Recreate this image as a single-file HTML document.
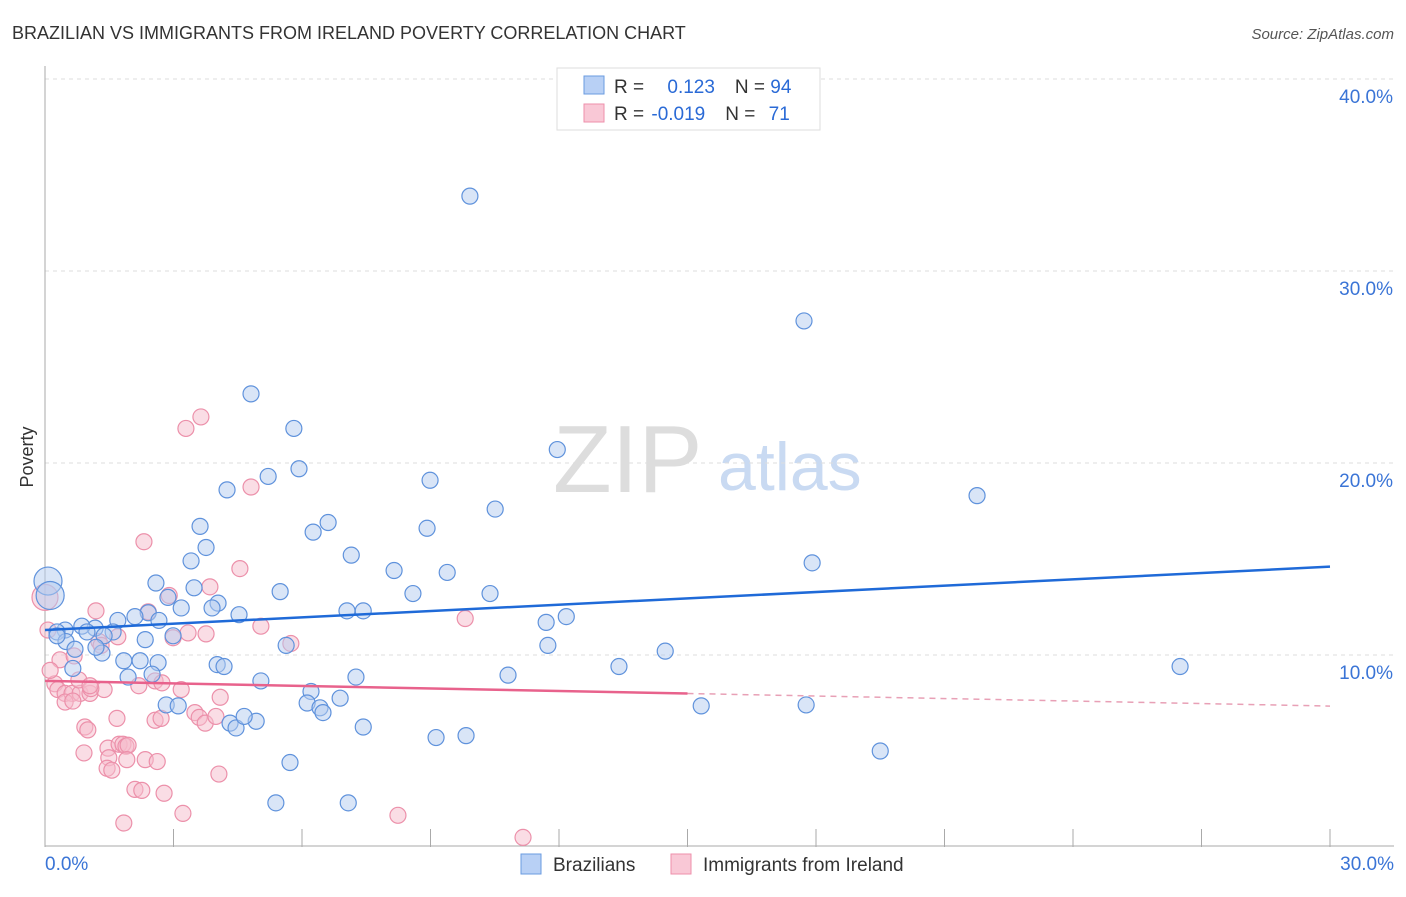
<!DOCTYPE html>
<html><head><meta charset="utf-8"><style>
body{margin:0;background:#fff;font-family:"Liberation Sans",sans-serif;}
svg text{font-family:"Liberation Sans",sans-serif;}
</style></head><body>
<svg id="chart" width="1406" height="892" viewBox="0 0 1406 892">
<text x="12" y="39" font-size="18" fill="#333">BRAZILIAN VS IMMIGRANTS FROM IRELAND POVERTY CORRELATION CHART</text>
<text x="1394" y="39" font-size="15" fill="#555" font-style="italic" text-anchor="end">Source: ZipAtlas.com</text>
<text x="33" y="457" font-size="18" fill="#333" transform="rotate(-90 33 457)" text-anchor="middle">Poverty</text>
<g><text x="553" y="492" font-size="96" fill="#ddd" font-family="Liberation Serif">ZIP</text><text x="718" y="490" font-size="68" fill="#c9daf2">atlas</text></g>
<g id="grid"></g><g id="axes"></g><g id="pink"></g><g id="blue"></g><g id="lines"></g>
<g>
<rect x="557" y="68" width="263" height="62" fill="#fff" stroke="#ddd"/>
<rect x="584" y="76" width="20" height="18" fill="#b8d0f5" stroke="#6a9be0"/>
<rect x="584" y="104" width="20" height="18" fill="#f9c8d6" stroke="#ee8fab"/>
<text x="614" y="93" font-size="19" fill="#333">R = <tspan fill="#2a6ad6" dx="18">0.123</tspan><tspan dx="20" fill="#333">N = </tspan><tspan fill="#2a6ad6">94</tspan></text>
<text x="614" y="120" font-size="19" fill="#333">R = <tspan fill="#2a6ad6" dx="2">-0.019</tspan><tspan dx="20" fill="#333">N = </tspan><tspan fill="#2a6ad6" dx="8">71</tspan></text>
</g>
<g>
<rect x="521" y="854" width="20" height="20" fill="#b8d0f5" stroke="#6a9be0"/>
<text x="553" y="871" font-size="19" fill="#333">Brazilians</text>
<rect x="671" y="854" width="20" height="20" fill="#f9c8d6" stroke="#ee8fab"/>
<text x="703" y="871" font-size="19" fill="#333">Immigrants from Ireland</text>
</g>
</svg>
<script>
const yTicks=[10,20,30,40];
const yTickLabels=["10.0%","20.0%","30.0%","40.0%"];
const xTickLabels=["0.0%","30.0%"];
const blueX=[9.92,17.72,4.81,11.96,5.81,5.93,5.21,4.25,8.99,21.76,10.51,3.62,6.61,6.26,8.92,3.76,7.15,3.41,17.91,8.15,9.39,2.59,5.49,3.48,8.59,10.39,2.87,4.04,3.90,3.18,2.41,4.53,7.05,7.43,2.10,1.70,2.66,12.17,11.70,1.17,0.86,0.47,0.28,1.59,2.99,2.34,1.38,0.49,11.74,5.63,0.70,1.33,1.19,14.48,1.84,2.22,2.64,4.02,4.18,26.5,13.40,0.65,2.50,1.94,10.81,7.26,5.04,6.21,6.89,6.12,2.83,3.11,6.42,6.49,15.32,17.77,4.32,4.46,4.93,4.65,7.43,9.13,9.83,19.5,5.72,5.39,7.08,0.28,0.98];
const blueY=[33.9,27.4,23.6,20.7,21.8,19.7,19.3,18.6,19.1,18.3,17.6,16.7,16.9,16.4,16.6,15.6,15.2,14.9,14.8,14.4,14.3,13.75,13.3,13.5,13.2,13.2,13.0,12.7,12.45,12.45,12.2,12.1,12.3,12.3,12.0,11.8,11.8,12.0,11.7,11.4,11.5,11.3,11.2,11.2,11.0,10.8,11.0,10.7,10.5,10.5,10.3,10.1,10.4,10.2,9.7,9.7,9.6,9.5,9.4,9.4,9.4,9.3,9.0,8.85,8.95,8.85,8.65,8.1,7.75,7.5,7.4,7.35,7.25,7.0,7.35,7.4,6.45,6.2,6.55,6.8,6.25,5.7,5.8,5.0,4.4,2.3,2.3,11.0,11.2];
const blueBigX=[0.07,0.12];
const blueBigY=[13.85,13.1];
const pinkX=[3.64,3.29,4.81,2.31,4.55,3.85,2.90,2.41,1.19,5.04,3.76,3.34,2.99,1.70,1.26,1.31,5.74,9.81,0.35,0.68,0.23,0.30,0.47,0.63,0.82,1.05,1.38,0.79,2.19,3.18,2.57,2.73,0.47,0.65,1.07,1.68,0.93,1.00,2.57,2.71,3.50,3.60,3.74,1.47,1.73,1.82,1.89,1.94,0.91,1.49,1.91,2.34,2.62,1.45,1.56,4.06,2.10,2.26,2.78,1.84,3.22,8.24,11.16,4.09,3.99,1.05,0.12,0.07];
const pinkY=[22.4,21.8,18.75,15.9,14.5,13.55,13.1,12.25,12.3,11.5,11.1,11.15,10.9,10.95,10.7,10.5,10.6,11.9,9.75,9.95,8.5,8.2,8.0,8.0,8.0,8.0,8.2,8.7,8.4,8.2,8.65,8.55,7.55,7.6,8.25,6.7,6.25,6.1,6.6,6.7,7.0,6.75,6.45,5.15,5.35,5.35,5.25,5.3,4.9,4.65,4.55,4.55,4.45,4.1,4.0,3.8,3.0,2.95,2.8,1.25,1.75,1.65,0.5,7.8,6.8,8.4,9.2,11.3];
const pinkBigX=[0.0];
const pinkBigY=[13.0];
const blueTrend=[11.3,14.6];
const pinkTrend=[8.65,7.34];
const pinkSolidEnd=15;

const NS="http://www.w3.org/2000/svg";
const X0=45,X1=1330,XMAX=30,Y0=847,PXPER=19.2;
const xs=v=>X0+(v/XMAX)*(X1-X0);
const ys=v=>Y0-v*PXPER;
function mk(tag,attrs,parent){const e=document.createElementNS(NS,tag);for(const k in attrs)e.setAttribute(k,attrs[k]);parent.appendChild(e);return e;}
const grid=document.getElementById('grid'),axes=document.getElementById('axes');
yTicks.forEach((t,i)=>{
 const l=mk('line',{x1:X0,x2:1394,y1:ys(t),y2:ys(t),stroke:'#ddd','stroke-dasharray':'4,4'},grid);
 
 
 const tx=mk('text',{x:1393,y:ys(t)+24,'font-size':19,fill:'#3a74d6','text-anchor':'end'},axes);
 tx.textContent=yTickLabels[i];
 
 
});
let ax=mk('line',{x1:X0,x2:X0,y1:66,y2:Y0,stroke:'#aaa'},axes);


ax=mk('line',{x1:X0,x2:1394,y1:Y0-1,y2:Y0-1,stroke:'#aaa'},axes);


for(let i=0;i<=10;i++){const v=i*3;const tk=mk('line',{x1:xs(v),x2:xs(v),y1:Y0-18,y2:Y0,stroke:'#aaa'},axes);
 
 }
let xt=mk('text',{x:45,y:870,'font-size':19,fill:'#3a74d6'},axes);xt.textContent=xTickLabels[0];


xt=mk('text',{x:1394,y:870,'font-size':19,fill:'#3a74d6','text-anchor':'end'},axes);xt.textContent=xTickLabels[1];


function dots(X,Y,g,r,fill,stroke,name){X.forEach((x,i)=>{const c=mk('circle',{cx:xs(x),cy:ys(Y[i]),r:r,fill:fill,'fill-opacity':0.5,stroke:stroke,'stroke-width':1.2},g);
 
 });}
const pg=document.getElementById('pink'),bg=document.getElementById('blue');
dots(pinkBigX,pinkBigY,pg,13,'#f6bccc','#ec90aa','ireland-point');
dots(pinkX,pinkY,pg,8,'#f6bccc','#ec90aa','ireland-point');
dots(blueBigX,blueBigY,bg,14,'#b4ccf0','#5f92dc','brazilian-point');
dots(blueX,blueY,bg,8,'#b4ccf0','#5f92dc','brazilian-point');
const lg=document.getElementById('lines');
let ln=mk('line',{x1:xs(0),y1:ys(blueTrend[0]),x2:xs(XMAX),y2:ys(blueTrend[1]),stroke:'#1f6ad8','stroke-width':2.5},lg);


const pm=pinkTrend[0]+(pinkTrend[1]-pinkTrend[0])*pinkSolidEnd/XMAX;
ln=mk('line',{x1:xs(0),y1:ys(pinkTrend[0]),x2:xs(pinkSolidEnd),y2:ys(pm),stroke:'#e8628c','stroke-width':2.5},lg);


ln=mk('line',{x1:xs(pinkSolidEnd),y1:ys(pm),x2:xs(XMAX),y2:ys(pinkTrend[1]),stroke:'#e8a0b6','stroke-width':1.5,'stroke-dasharray':'6,5'},lg);


</script>
</body></html>
